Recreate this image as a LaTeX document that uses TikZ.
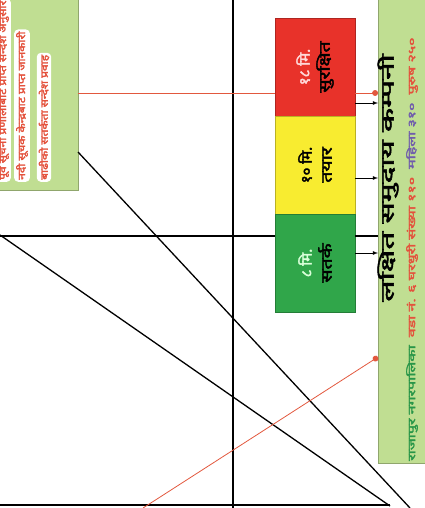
\documentclass[tikz,border=0pt]{standalone}
\usepackage{graphicx}
\usepackage{fontspec}
\newfontfamily\deva[Script=Devanagari, AutoFakeBold=2.5]{Noto Sans}
\usetikzlibrary{arrows, positioning}

\definecolor{leafgreen}{RGB}{192,222,146}
\definecolor{alertred}{RGB}{232,50,42}
\definecolor{readyyellow}{RGB}{248,236,48}
\definecolor{safegreen}{RGB}{48,166,74}
\definecolor{linkred}{RGB}{226,88,62}
\definecolor{subred}{RGB}{228,82,60}
\definecolor{subpurple}{RGB}{112,92,172}
\definecolor{subgreen}{RGB}{40,150,72}

\newcommand{\stretchx}[2]{\scalebox{#1}[1]{#2}}

\begin{document}
\begin{tikzpicture}
[x=1pt, y=-1pt,
  every node/.style={inner sep=0pt, font=\deva},
  level/.style={draw=#1!75!black, fill=#1, minimum width=98pt, minimum height=80pt,
    rotate=90, align=center, font=\deva\bfseries\fontsize{15}{20}\selectfont},
  sheet/.style={draw=leafgreen!75!black, fill=leafgreen},
  halo/.style={fill=white, rounded corners=4pt, inner sep=2pt, text=subred,
    rotate=90, anchor=west, font=\deva\bfseries\fontsize{10}{11}\selectfont},
  rule/.style={draw, line width=1.3pt},
  link/.style={draw=linkred, line width=0.8pt},
  >=latex]

\useasboundingbox (0,0) rectangle (425,508);

% notice sheet, top left
\node[sheet, minimum width=84pt, minimum height=194pt, anchor=north east] (notice) at (78,-4) {};
\node[halo] (noteA) at (3,182) {\stretchx{1.2}{पूर्व सूचना प्रणालीबाट प्राप्त सन्देश अनुसार}};
\node[halo] (noteB) at (22,182) {\stretchx{1.2}{नदी सूचक केन्द्रबाट प्राप्त जानकारी}};
\node[halo] (noteC) at (44,182) {\stretchx{1.2}{बाढीको सतर्कता सन्देश प्रवाह}};

% warning levels
\node[level=alertred] (redbox) at (315,67) {{\color{white!85!red}१८ मि.}\\\stretchx{1.3}{सुरक्षित}};
\node[level=readyyellow] (yellowbox) at (315,165) {१० मि.\\\stretchx{1.3}{तयार}};
\node[level=safegreen] (greenbox) at (315,263) {{\color{white!85!green}८ मि.}\\\stretchx{1.3}{सतर्क}};

% target community
\node[sheet, minimum width=52pt, minimum height=470pt, anchor=north west] (target) at (378,-7) {};
\node[rotate=90, font=\deva\bfseries\fontsize{18}{20}\selectfont] (title) at (388,178)
  {\stretchx{1.75}{लक्षित समुदाय कम्पनी}};
\node[rotate=90, anchor=west, font=\deva\bfseries\fontsize{10}{11}\selectfont] (subtitle) at (412,461)
  {\stretchx{1.6}{{\color{subgreen}राजापुर नगरपालिका}\enspace{\color{subred}वडा नं. ६ घरधुरी संख्या ११०}\enspace
   {\color{subpurple}महिला ३१०}\enspace{\color{subred}पुरुष २५०}}};

% frame lines
\coordinate (vtop) at (233,0);
\coordinate (vbot) at (233,508);
\draw[rule] (vtop) -- (vbot);

\coordinate (hleft) at (0,236);
\draw[rule] (hleft) -- (hleft -| greenbox.north);
\draw[rule] (greenbox.south |- hleft) -- (hleft -| target.west);

\coordinate (bleft) at (0,505);
\coordinate (bright) at (390,505);
\draw[rule] (bleft) -- (bright);

\coordinate (diagA) at (notice.east |- 0,152);
\coordinate (diagAend) at (410,508);
\draw[rule] (diagA) -- (diagAend);

\coordinate (diagB) at (0,235);
\coordinate (diagBend) at (390,506);
\draw[rule] (diagB) -- (diagBend);

% message flow
\coordinate (warnlvl) at (0,93);
\draw[link] (notice.east |- warnlvl) -- (warnlvl -| redbox.north);
\draw[link, -*] (redbox.south |- warnlvl) -- (warnlvl -| target.west);

\coordinate (redout) at ([yshift=-36pt]redbox.south);
\coordinate (yellowout) at ([yshift=-13pt]yellowbox.south);
\coordinate (greenout) at ([yshift=10pt]greenbox.south);
\draw[->, thick] (redout) -- (redout -| target.west);
\draw[->, thick] (yellowout) -- (yellowout -| target.west);
\draw[->, thick] (greenout) -- (greenout -| target.west);

\coordinate (field) at (143,508);
\coordinate (fieldend) at (target.west |- 0,357);
\draw[link, -*] (field) -- (fieldend);

\end{tikzpicture}
\end{document}
